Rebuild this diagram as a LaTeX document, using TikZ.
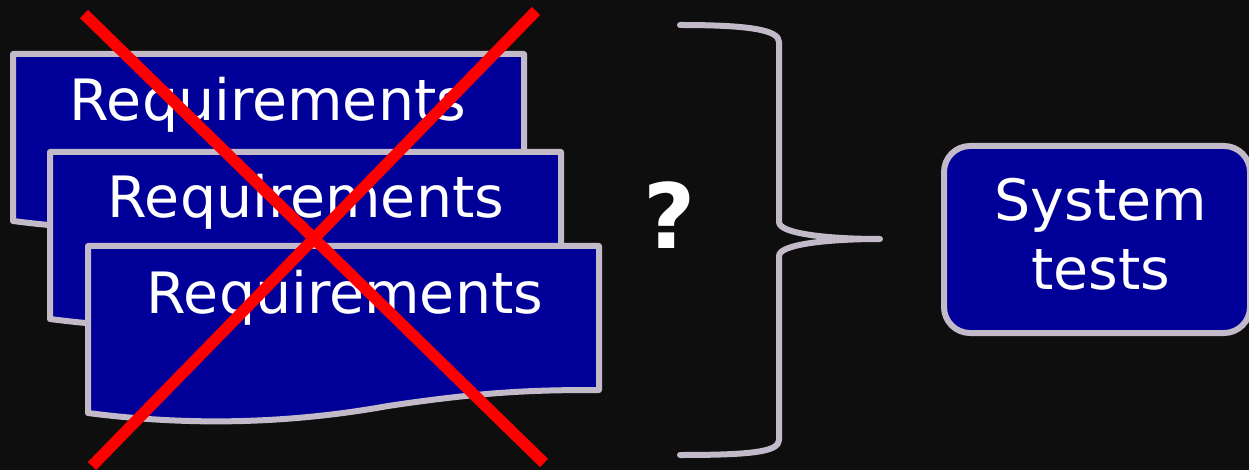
\documentclass[tikz,border=0pt]{standalone}
\usepackage{fontspec}
\setmainfont{DejaVu Sans}
\definecolor{bg}{HTML}{0E0E0E}
\definecolor{docblue}{HTML}{000099}
\definecolor{edgegray}{HTML}{C2BAC8}
\definecolor{crossred}{HTML}{FF0000}
\begin{document}
\begin{tikzpicture}[x=1pt,y=-1pt,
  docshape/.style={fill=docblue,draw=edgegray,line width=6pt,line join=round},
  lbl/.style={text=white,font=\fontsize{57}{68}\selectfont,anchor=base,inner sep=0pt},
  crossline/.style={draw=crossred,line width=11.5pt},
  bracestyle/.style={draw=edgegray,line width=6pt,line cap=round,line join=round}]
\fill[bg] (0,0) rectangle (1249,470);
\useasboundingbox (0,0) rectangle (1249,470);
% documents
\foreach \dx/\dy in {13/54,50/152,88/246}{
  \draw[docshape,shift={(\dx,\dy)}] (0,167) -- (0,0) -- (511,0) -- (511,144)
    .. controls (450,144) and (400,145) .. (300,160)
    .. controls (200,178) and (100,180) .. (0,167) -- cycle;
}
\node[lbl] (req1) at (268,121) {Requirements};
\node[lbl] (req2) at (306,218) {Requirements};
\node[lbl] (req3) at (345,313) {Requirements};
% red cross
\coordinate (xa1) at (84,14);
\coordinate (xa2) at (544,463);
\coordinate (xb1) at (536,11);
\coordinate (xb2) at (92,466);
\draw[crossline] (xa1) -- (xa2);
\draw[crossline] (xb1) -- (xb2);
% question mark
\node[text=white,font=\fontsize{90}{94}\selectfont\bfseries,anchor=base,inner sep=0pt] (q) at (670,248) {?};
% brace
\draw[bracestyle] (680,25) .. controls (750,25) and (779,30) .. (779,42)
  -- (779,222) .. controls (779,234) and (830,239) .. (880,239)
  .. controls (830,239) and (779,244) .. (779,256)
  -- (779,440) .. controls (779,452) and (750,455) .. (680,455);
% system tests
\node[draw=edgegray,fill=docblue,line width=6pt,rounded corners=26pt,
  minimum width=306pt,minimum height=187pt,inner sep=0pt] (sys) at (1097,239.5) {};
\node[lbl] (sys1) at (1101,221) {System};
\node[lbl] (sys2) at (1101,289) {tests};
\end{tikzpicture}
\end{document}
